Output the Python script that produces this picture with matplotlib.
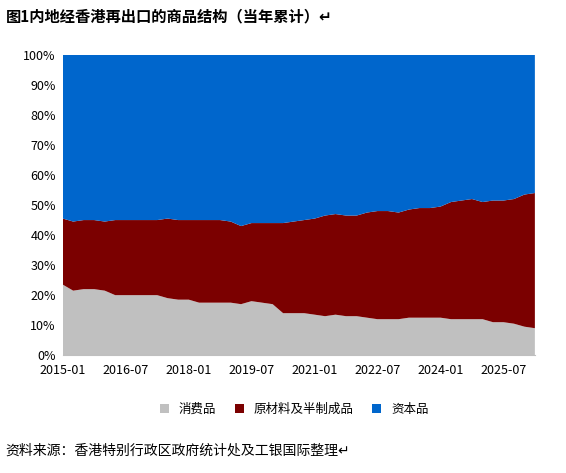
import matplotlib
matplotlib.use("Agg")
import matplotlib.pyplot as plt
import numpy as np
import pandas as pd

plt.rcParams['font.family'] = ['Noto Sans CJK SC', 'DejaVu Sans']

# quarterly readings, 2015-01 .. 2026-04 (share of total, %)
dates = pd.date_range("2015-01-01", periods=46, freq="3MS")
consumer = [23.5, 21.5, 22, 22,
            21.5, 20, 20, 20,
            20, 20, 19, 18.5,
            18.5, 17.5, 17.5, 17.5,
            17.5, 17, 18, 17.5,
            17, 14, 14, 14,
            13.5, 13, 13.5, 13,
            13, 12.5, 12, 12,
            12, 12.5, 12.5, 12.5,
            12.5, 12, 12, 12,
            12, 11, 11, 10.5,
            9.5, 9]
consumer_plus_raw = [45.5, 44.5, 45, 45,
                     44.5, 45, 45, 45,
                     45, 45, 45.5, 45,
                     45, 45, 45, 45,
                     44.5, 43, 44, 44,
                     44, 44, 44.5, 45,
                     45.5, 46.5, 47, 46.5,
                     46.5, 47.5, 48, 48,
                     47.5, 48.5, 49, 49,
                     49.5, 51, 51.5, 52,
                     51, 51.5, 51.5, 52,
                     53.5, 54]
raw = np.array(consumer_plus_raw) - np.array(consumer)
capital = 100 - np.array(consumer_plus_raw)
labels = ["消费品", "原材料及半制成品", "资本品"]
tick_labels = ["2015-01", "2016-07", "2018-01", "2019-07", "2021-01", "2022-07", "2024-01", "2025-07"]

fig = plt.figure(figsize=(5.66, 4.73), dpi=100)
ax = fig.add_axes([0.111, 0.249, 0.834, 0.635])
ax.stackplot(dates, consumer, raw, capital, labels=labels,
             colors=["#C0C0C0", "#7B0000", "#0066CC"], linewidth=0)
ax.set_ylim(0, 100)
ax.set_xlim(dates[0], dates[-1])
ax.set_yticks(range(0, 101, 10))
ax.set_yticklabels([f"{v}%" for v in range(0, 101, 10)], fontsize=9)
ax.set_xticks(pd.to_datetime(tick_labels))
ax.set_xticklabels(tick_labels, fontsize=9)
ax.tick_params(axis="x", length=0, pad=6)
ax.tick_params(axis="y", length=0, pad=5)
for s in ["top", "right", "left"]:
    ax.spines[s].set_visible(False)
ax.spines["bottom"].set_color("#BFBFBF")

fig.legend(loc="center", bbox_to_anchor=(0.52, 0.135), ncol=3, frameon=False,
           fontsize=9, handlelength=0.7, handleheight=0.7, columnspacing=1.5)
fig.text(0.01, 0.965, "图1内地经香港再出口的商品结构（当年累计）↵", fontsize=11,
         fontweight="bold", va="center")
fig.text(0.01, 0.048, "资料来源：香港特别行政区政府统计处及工银国际整理↵", fontsize=10,
         style="italic", va="center")
fig.savefig("out.png", dpi=100)
